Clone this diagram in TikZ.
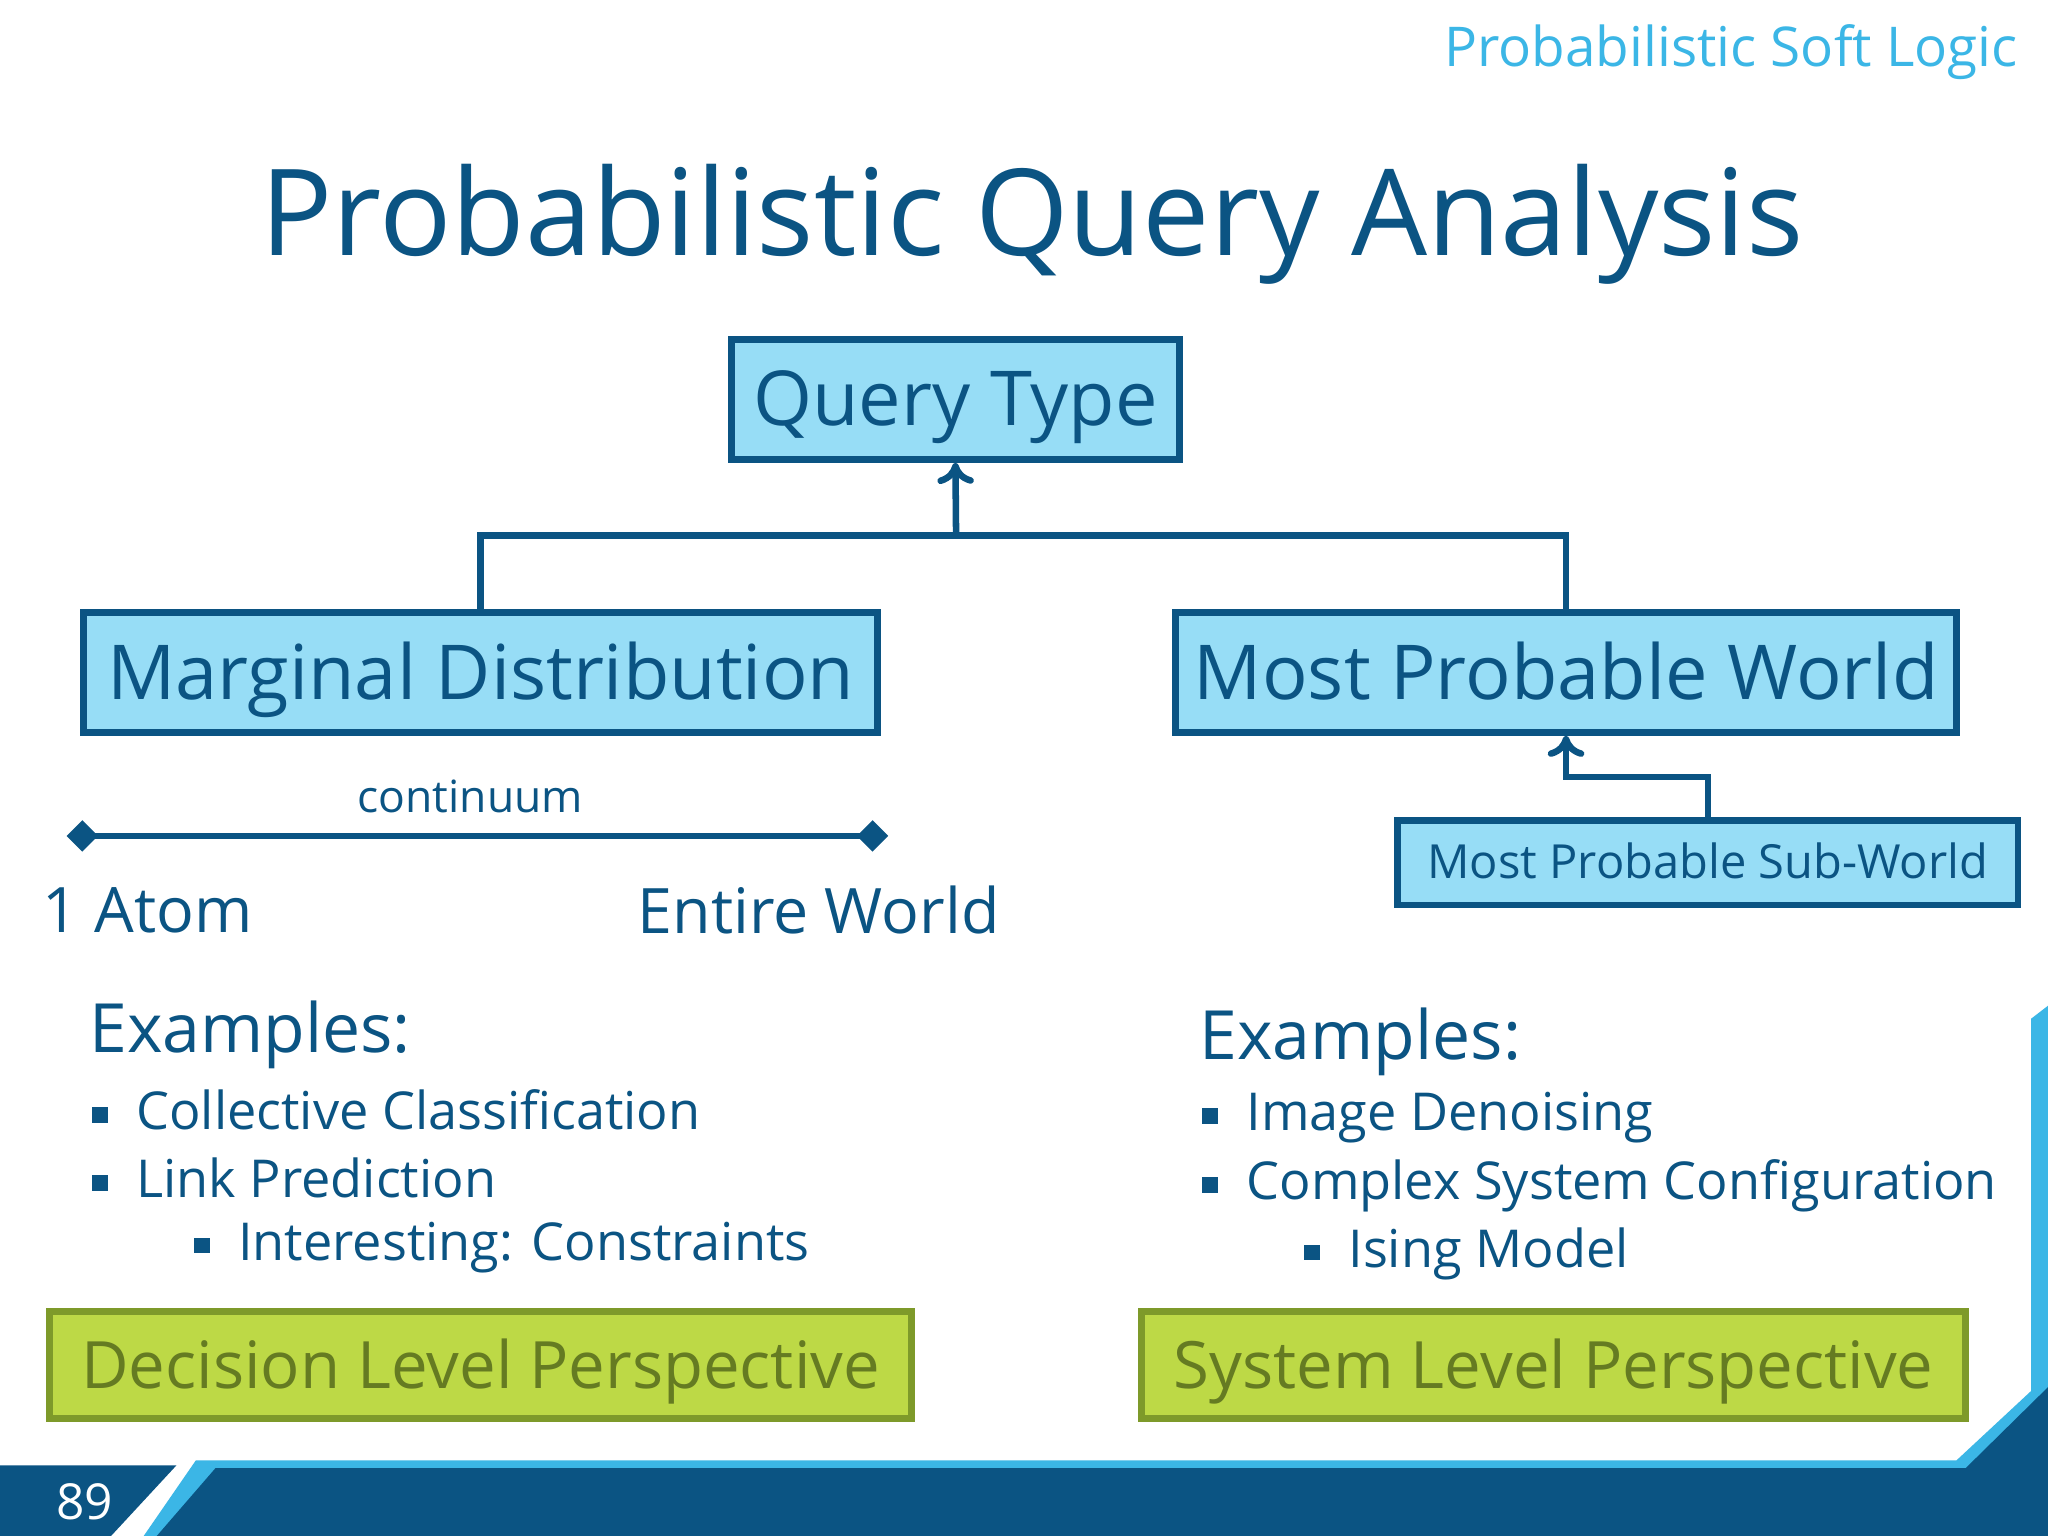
\documentclass[tikz,border=0pt]{standalone}
\usepackage{fontspec}
\setmainfont{Open Sans}
\usetikzlibrary{arrows.meta}
\definecolor{dblue}{HTML}{0B5483}
\definecolor{lblue}{HTML}{97DDF6}
\definecolor{tblue}{HTML}{3BB6E6}
\definecolor{gfill}{HTML}{BDD946}
\definecolor{gline}{HTML}{7E9A2A}
\newcommand{\sqb}{\raisebox{0.25ex}{\rule{0.3em}{0.3em}}\hspace{11pt}}
\tikzset{
 bbox/.style={draw=dblue,line width=2.5pt,fill=lblue,text=dblue,inner sep=0pt,text depth=0.25ex},
 gbox/.style={draw=gline,line width=2.5pt,fill=gfill,text=gline!80!black,inner sep=0pt,text depth=0.2ex},
 conn/.style={draw=dblue,line width=2.5pt},
 txt/.style={text=dblue,anchor=west,inner sep=0pt},
}
\begin{document}
\begin{tikzpicture}[x=0.5pt,y=-0.5pt]
\useasboundingbox (0,0) rectangle (1568,1176);
\fill[white] (0,0) rectangle (1568,1176);
% bottom band
\fill[tblue] (150,1118) -- (1498,1118) -- (1555,1065) -- (1555,780) -- (1568,770) -- (1568,1176) -- (110,1176) -- cycle;
\fill[dblue] (165,1124) -- (1505,1124) -- (1568,1062) -- (1568,1176) -- (120,1176) -- cycle;
\fill[dblue] (0,1122) -- (135,1122) -- (85,1176) -- (0,1176) -- cycle;
\node[text=white,font=\fontsize{19}{19}\selectfont] (pg) at (65,1150) {89};
\node[text=tblue,anchor=east,font=\fontsize{21}{21}\selectfont] (hd) at (1552,40) {Probabilistic Soft Logic};
\node[text=dblue,font=\fontsize{46}{46}\selectfont] (title) at (790,172) {Probabilistic Query Analysis};
% boxes
\node[bbox,minimum width=171.5pt,minimum height=46pt,font=\fontsize{29}{29}\selectfont] (qt) at (731.5,306) {Query Type};
\node[bbox,minimum width=304pt,minimum height=46pt,font=\fontsize{29}{29}\selectfont] (md) at (368,515) {Marginal Distribution};
\node[bbox,minimum width=299pt,minimum height=46pt,font=\fontsize{29}{29}\selectfont] (mpw) at (1199,515) {Most Probable World};
\node[bbox,minimum width=237.5pt,minimum height=32.5pt,font=\fontsize{18}{18}\selectfont] (sub) at (1307.5,660.5) {Most Probable Sub-World};
\coordinate (j) at (732,410);
\draw[conn] (md.north) |- (j) -| (mpw.north);
\draw[conn,-{To[length=8pt,width=14pt]}] (j) -- (qt.south);
\draw[conn,-{To[length=8pt,width=14pt]}] (sub.north) |- (1199,595) -- (mpw.south);
% continuum
\coordinate (c1) at (63,640); \coordinate (c2) at (668,640);
\draw[conn] (c1) -- (c2);
\fill[dblue] (c1) ++(-12,0) -- ++(12,-12) -- ++(12,12) -- ++(-12,12) -- cycle;
\fill[dblue] (c2) ++(-12,0) -- ++(12,-12) -- ++(12,12) -- ++(-12,12) -- cycle;
\node[text=dblue,font=\fontsize{17}{17}\selectfont] (cont) at (360,610) {continuum};
\node[txt,font=\fontsize{24}{24}\selectfont] (a1) at (32,697) {1 Atom};
\node[txt,font=\fontsize{24}{24}\selectfont] (ew) at (488,697) {Entire World};
% examples left
\node[txt,font=\fontsize{26}{26}\selectfont] (exl) at (68,792) {Examples:};
\node[txt,font=\fontsize{20}{20}\selectfont] (l1) at (70,850) {\sqb Collective Classification};
\node[txt,font=\fontsize{20}{20}\selectfont] (l2) at (70,902) {\sqb Link Prediction};
\node[txt,font=\fontsize{20}{20}\selectfont] (l3) at (148,955) {\sqb Interesting: Constraints};
% examples right
\node[txt,font=\fontsize{26}{26}\selectfont] (exr) at (918,798) {Examples:};
\node[txt,font=\fontsize{20}{20}\selectfont] (r1) at (920,856) {\sqb Image Denoising};
\node[txt,font=\fontsize{20}{20}\selectfont] (r2) at (920,908) {\sqb Complex System Configuration};
\node[txt,font=\fontsize{20}{20}\selectfont] (r3) at (998,960) {\sqb Ising Model};
% green
\node[gbox,minimum width=330pt,minimum height=41pt,font=\fontsize{25}{25}\selectfont] (dl) at (368,1045) {Decision Level Perspective};
\node[gbox,minimum width=315.5pt,minimum height=41pt,font=\fontsize{25}{25}\selectfont] (sl) at (1189.5,1045) {System Level Perspective};
\end{tikzpicture}
\end{document}
